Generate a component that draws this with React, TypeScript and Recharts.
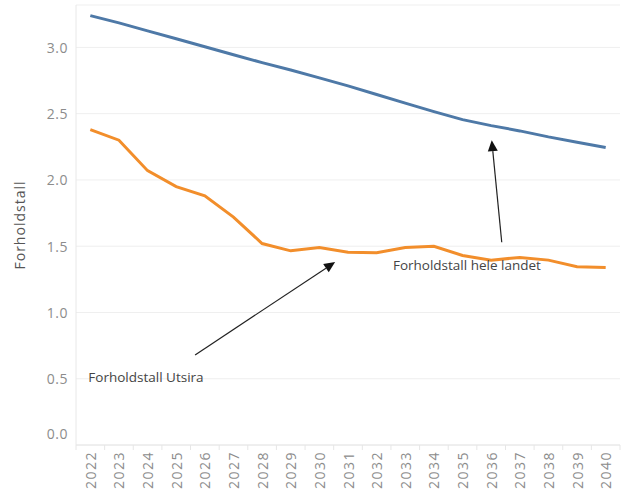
import { LineChart, Line, XAxis, YAxis, CartesianGrid, ReferenceLine, ReferenceDot } from 'recharts'

const years = ['2022', '2023', '2024', '2025', '2026', '2027', '2028', '2029', '2030', '2031',
  '2032', '2033', '2034', '2035', '2036', '2037', '2038', '2039', '2040']
const heleLandet = [3.24, 3.185, 3.125, 3.065, 3.005, 2.945, 2.885, 2.83, 2.77, 2.71,
  2.645, 2.58, 2.515, 2.455, 2.41, 2.37, 2.325, 2.285, 2.245]
const utsira = [2.38, 2.3, 2.07, 1.95, 1.88, 1.72, 1.52, 1.465, 1.49, 1.455,
  1.45, 1.49, 1.5, 1.43, 1.395, 1.415, 1.395, 1.345, 1.34]
const yTicks = [0, 0.5, 1, 1.5, 2, 2.5, 3]

// annotation anchors: [position in years from 2022, ratio]
const notes = [
  { label: 'Forholdstall hele landet', text: [10.57, 1.36], from: [14.37, 1.53], to: [14.02, 2.3] },
  { label: 'Forholdstall Utsira', text: [-0.07, 0.51], from: [3.66, 0.68], to: [8.55, 1.38] },
]

const data = years.map((y, i) => ({ year: y, hele: heleLandet[i], utsira: utsira[i] }))

const W = 628
const H = 493
const LEFT = 76
const RIGHT = 8
const band = (W - LEFT - RIGHT) / years.length
const half = band / 2
const grey = '#8c8c8c'
const font = '"Open Sans", sans-serif'

// split a fractional year position into a category and a pixel offset
const cat = (v: number) => years[Math.round(v)]
const off = (v: number) => (v - Math.round(v)) * band

const YTick = ({ x, y, payload }: any) => (
  <text x={x} y={payload.value === 0 ? y - 12 : y} textAnchor="end" dominantBaseline="central"
    fill={grey} fontSize={14} fontFamily={font} letterSpacing={0.5}>
    {Number(payload.value).toFixed(1)}
  </text>
)

const XTick = ({ x, y, payload, index }: any) => (
  <g>
    <line x1={x - half} x2={x - half} y1={y - 5} y2={y} stroke="#e6e6e6" />
    {index === years.length - 1 && <line x1={x + half} x2={x + half} y1={y - 5} y2={y} stroke="#e6e6e6" />}
    <text x={x} y={y + 1} transform={`rotate(-90, ${x}, ${y + 1})`} textAnchor="end" dominantBaseline="central"
      fill={grey} fontSize={14} fontFamily={font} letterSpacing={1.5}>
      {payload.value}
    </text>
  </g>
)

const Arrow = ({ x1, y1, x2, y2, d1, d2 }: any) => {
  const ax = x1 + d1
  const bx2 = x2 + d2
  const a = Math.atan2(y2 - y1, bx2 - ax)
  const len = 11
  const w = 5
  const bx = bx2 - len * Math.cos(a)
  const by = y2 - len * Math.sin(a)
  const px = -Math.sin(a) * w
  const py = Math.cos(a) * w
  return (
    <g>
      <line x1={ax} y1={y1} x2={bx} y2={by} stroke="#222" strokeWidth={1.2} />
      <polygon points={`${bx2},${y2} ${bx + px},${by + py} ${bx - px},${by - py}`} fill="#111" />
    </g>
  )
}

export default function App() {
  return (
    <div style={{ position: 'absolute', left: 0, top: 0 }}>
      <LineChart width={W} height={H} data={data} margin={{ top: 5, right: RIGHT, left: 0, bottom: 0 }}
        style={{ fontFamily: font }}>
        <CartesianGrid vertical={false} stroke="#efefef" />
        <XAxis dataKey="year" height={48} padding={{ left: half, right: half }} interval={0}
          tickLine={false} tickSize={0} tickMargin={5} axisLine={{ stroke: '#e6e6e6' }} tick={<XTick />} />
        <YAxis width={LEFT} domain={[0, 3.32]} ticks={yTicks} tickLine={false} axisLine={{ stroke: '#e8e8e8' }}
          tick={<YTick />}
          label={{ value: 'Forholdstall', angle: -90, position: 'insideLeft', offset: 20,
            style: { textAnchor: 'middle', fill: '#555', fontSize: 14, letterSpacing: 1, fontFamily: font } }} />
        <Line dataKey="hele" stroke="#4e79a7" strokeWidth={3} dot={false} isAnimationActive={false} />
        <Line dataKey="utsira" stroke="#f28e2b" strokeWidth={3} dot={false} isAnimationActive={false} />
        {notes.map((n) => (
          <ReferenceLine key={n.label + 'a'} ifOverflow="visible"
            segment={[{ x: cat(n.from[0]), y: n.from[1] }, { x: cat(n.to[0]), y: n.to[1] }]}
            shape={<Arrow d1={off(n.from[0])} d2={off(n.to[0])} />} />
        ))}
        {notes.map((n) => (
          <ReferenceDot key={n.label} x={cat(n.text[0])} y={n.text[1]} r={0} ifOverflow="visible"
            shape={(p: any) => (
              <text x={p.cx + off(n.text[0])} y={p.cy} dominantBaseline="central" fill="#444"
                fontSize={13.5} fontFamily={font}>
                {n.label}
              </text>
            )} />
        ))}
      </LineChart>
    </div>
  )
}
